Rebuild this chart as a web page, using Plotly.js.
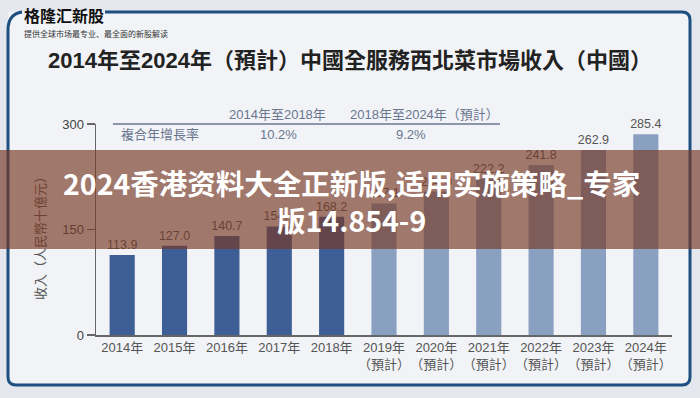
<!DOCTYPE html>
<html>
<head>
<meta charset="utf-8">
<script src="https://cdn.plot.ly/plotly-3.0.1.min.js"></script>
<style>html,body{margin:0;padding:0;background:#e4e8ee;}#chart{width:700px;height:398px;}</style>
</head>
<body>
<div id="chart"></div>
<script>
// ---- data ----
const years = ['2014年','2015年','2016年','2017年','2018年','2019年','2020年','2021年','2022年','2023年','2024年'];
const tickLabels = ['2014年','2015年','2016年','2017年','2018年',
  '2019年<br>（預計）','2020年<br>（預計）','2021年<br>（預計）','2022年<br>（預計）','2023年<br>（預計）','2024年<br>（預計）'];
const revenue = [113.9, 127.0, 140.7, 154.4, 168.2, 187.1, 204.0, 222.2, 241.8, 262.9, 285.4];
const isForecast = [false,false,false,false,false,true,true,true,true,true,true];
const yTicks = [0, 150, 300];
const periodLabels = ['2014年至2018年', '2018年至2024年（預計）'];
const cagrLabel = '複合年增長率';
const cagrValues = ['10.2%', '9.2%'];

// ---- layout helpers (page pixels -> paper coords) ----
const L = 96, R = 672, T = 124, B = 335;
const px = X => (X - L) / (R - L);
const py = Y => (B - Y) / (B - T);

const CJK = "Arial, 'Liberation Sans', 'Noto Sans CJK TC', sans-serif";
const BANNER_FONT = { family: "'Noto Sans CJK SC', sans-serif", size: 28.5, color: '#ffffff' };

const trace = {
  type: 'bar',
  x: years,
  y: revenue,
  width: 0.48,
  marker: { color: isForecast.map(f => f ? '#8aa0c0' : '#3e5f96') },
  text: revenue.map(v => v.toFixed(1)),
  textposition: 'outside',
  constraintext: 'none',
  cliponaxis: false,
  outsidetextfont: { family: CJK, size: 12.5, color: '#555' },
  hoverinfo: 'skip'
};

const framePath = [
  'M', px(105), py(12), 'L', px(682), py(12),
  'Q', px(690), py(12), px(690), py(20),
  'L', px(690), py(377),
  'Q', px(690), py(385), px(682), py(385),
  'L', px(16), py(385),
  'Q', px(8), py(385), px(8), py(377),
  'L', px(8), py(30),
  'Q', px(8), py(14), px(22), py(12)
].join(' ');

const layout = {
  width: 700, height: 398,
  margin: { l: L, r: 700 - R, t: T, b: 398 - B },
  paper_bgcolor: '#e4e8ee',
  plot_bgcolor: 'rgba(0,0,0,0)',
  showlegend: false,
  font: { family: CJK },
  title: {
    text: '<b>2014年至2024年（預計）中國全服務西北菜市場收入（中國）</b>',
    font: { family: CJK, size: 22, color: '#222' },
    x: 0.5, xref: 'container', xanchor: 'center',
    y: 1 - 60 / 398, yref: 'container', yanchor: 'middle'
  },
  xaxis: {
    type: 'category',
    tickvals: years, ticktext: tickLabels,
    tickangle: 0,
    range: [-0.5, 10.5],
    showline: true, linecolor: '#666', linewidth: 1.5,
    ticks: '', showgrid: false, zeroline: false,
    tickfont: { family: CJK, size: 13, color: '#555' },
    fixedrange: true
  },
  yaxis: {
    range: [0, 300],
    tickvals: yTicks,
    showline: true, linecolor: '#666', linewidth: 1.5,
    ticks: 'outside', ticklen: 8, tickcolor: '#666', tickwidth: 1.2,
    showgrid: false, zeroline: false,
    tickfont: { family: CJK, size: 13, color: '#444' },
    fixedrange: true
  },
  shapes: [
    { type: 'rect', xref: 'paper', yref: 'paper', layer: 'below',
      x0: px(8), x1: px(690), y0: py(385), y1: py(12),
      fillcolor: '#f1f3f6', line: { width: 0 } },
    { type: 'path', xref: 'paper', yref: 'paper', layer: 'below',
      path: framePath, line: { color: '#1d4f80', width: 3 } },
    { type: 'line', xref: 'paper', yref: 'paper', layer: 'above',
      x0: px(113), x1: px(500), y0: py(124), y1: py(124),
      line: { color: '#6a7690', width: 1.5 } }
  ],
  annotations: [
    { text: '<b>格隆汇新股</b>', xref: 'paper', yref: 'paper', x: px(22), y: py(15),
      xanchor: 'left', yanchor: 'middle', showarrow: false,
      font: { family: "'Noto Sans CJK SC', sans-serif", size: 16, color: '#111' } },
    { text: '提供全球市场最专业、最全面的新股解读', xref: 'paper', yref: 'paper', x: px(22), y: py(33),
      xanchor: 'left', yanchor: 'middle', showarrow: false,
      font: { family: "'Noto Sans CJK SC', sans-serif", size: 8, color: '#333' } },
    { text: periodLabels[0], xref: 'paper', yref: 'paper', x: px(277), y: py(115),
      xanchor: 'center', yanchor: 'middle', showarrow: false,
      font: { family: CJK, size: 13, color: '#6a7690' } },
    { text: periodLabels[1], xref: 'paper', yref: 'paper', x: px(424), y: py(115),
      xanchor: 'center', yanchor: 'middle', showarrow: false,
      font: { family: CJK, size: 13, color: '#6a7690' } },
    { text: cagrLabel, xref: 'paper', yref: 'paper', x: px(160), y: py(134),
      xanchor: 'center', yanchor: 'middle', showarrow: false,
      font: { family: CJK, size: 13, color: '#6a7690' } },
    { text: cagrValues[0], xref: 'paper', yref: 'paper', x: px(278), y: py(134),
      xanchor: 'center', yanchor: 'middle', showarrow: false,
      font: { family: CJK, size: 13, color: '#6a7690' } },
    { text: cagrValues[1], xref: 'paper', yref: 'paper', x: px(411), y: py(134),
      xanchor: 'center', yanchor: 'middle', showarrow: false,
      font: { family: CJK, size: 13, color: '#6a7690' } },
    { text: '收入（人民幣十億元）', xref: 'paper', yref: 'paper', x: px(40), y: py(235),
      xanchor: 'center', yanchor: 'middle', showarrow: false, textangle: -90,
      font: { family: CJK, size: 13, color: '#555' } },
    // banner band
    { text: '&nbsp;', xref: 'paper', yref: 'paper', x: px(350), y: py(199.5),
      xanchor: 'center', yanchor: 'middle', showarrow: false,
      width: 720, height: 99, borderpad: 0, borderwidth: 0,
      bgcolor: 'rgba(120,56,36,0.66)', font: BANNER_FONT },
    { text: '<b>2024香港资料大全正新版,适用实施策略_专家</b>',
      xref: 'paper', yref: 'paper', x: px(351), y: py(182),
      xanchor: 'center', yanchor: 'middle', showarrow: false, font: BANNER_FONT },
    { text: '<b>版14.854-9</b>',
      xref: 'paper', yref: 'paper', x: px(351), y: py(219),
      xanchor: 'center', yanchor: 'middle', showarrow: false, font: BANNER_FONT }
  ]
};

Plotly.newPlot('chart', [trace], layout, { displayModeBar: false, staticPlot: true });
</script>
</body>
</html>
